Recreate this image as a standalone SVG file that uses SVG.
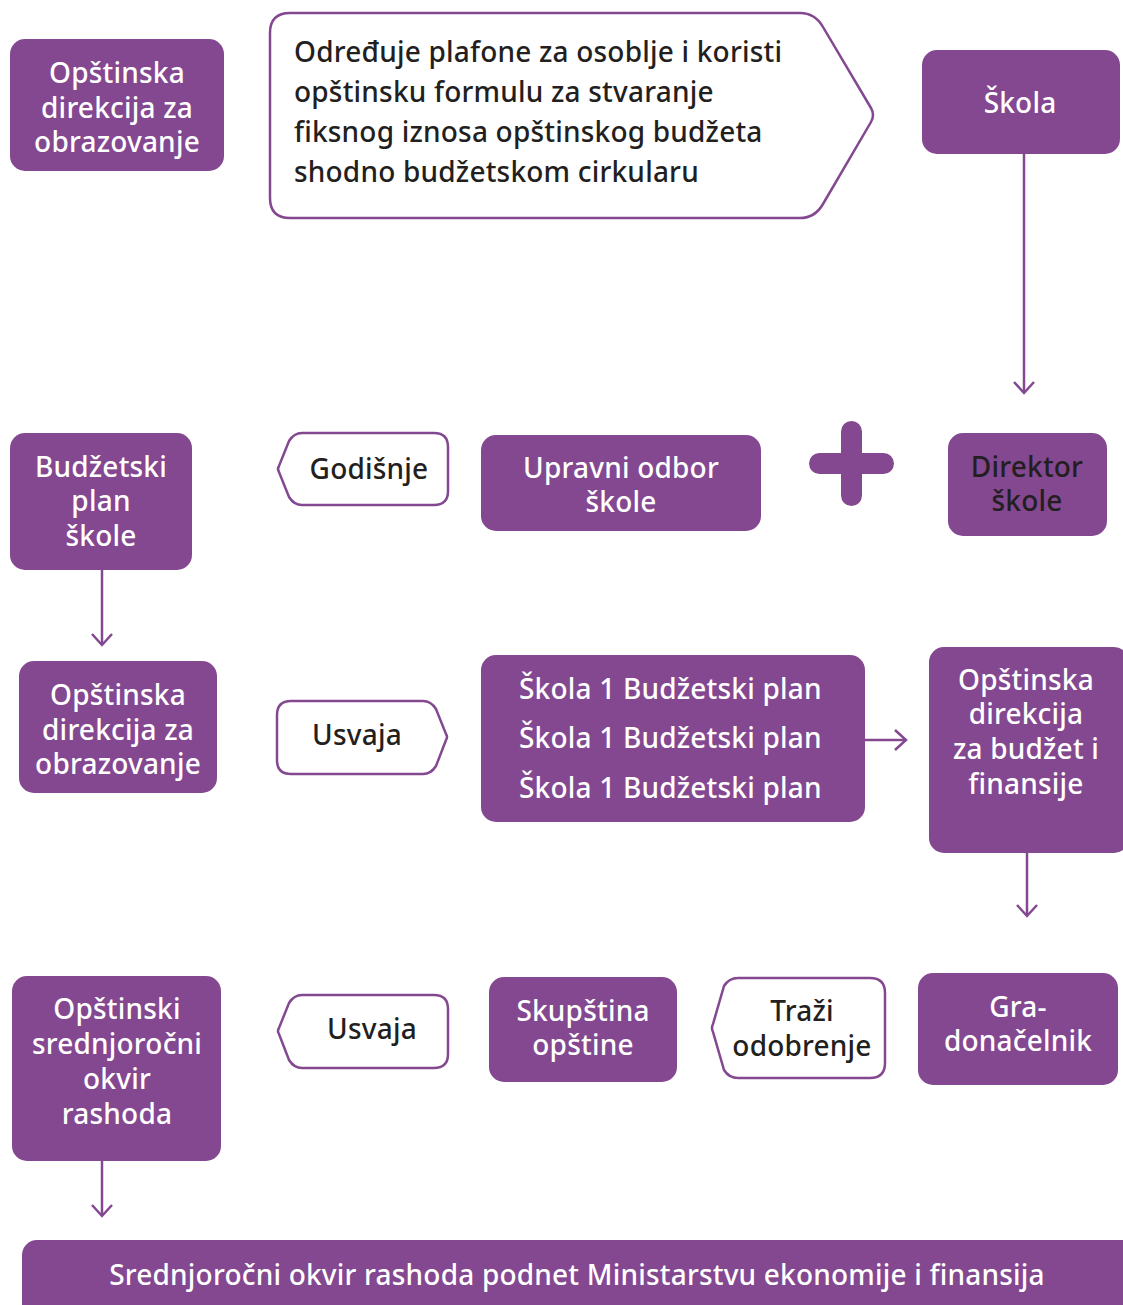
<svg xmlns="http://www.w3.org/2000/svg" width="1123" height="1305" viewBox="0 0 1123 1305">
<defs>
<style>
.box{fill:#844891}
.tag{fill:#fff;stroke:#844891;stroke-width:2.5}
.t{font-family:"Noto Sans","Open Sans","Liberation Sans",sans-serif;font-size:28px;font-weight:500;letter-spacing:0.2px;text-anchor:middle}
.w{fill:#fff}
.k{fill:#231f20}
.l{text-anchor:start}
.con{fill:none;stroke:#844891;stroke-width:2.5}
</style>
<marker id="ah" markerUnits="userSpaceOnUse" markerWidth="24" markerHeight="24" viewBox="-12 -12 24 24" refX="0" refY="0" orient="auto" overflow="visible">
<path d="M-11,-10 L0,0 L-11,10" fill="none" stroke="#844891" stroke-width="2.5"/>
</marker>
</defs>
<rect width="1123" height="1305" fill="#fff"/>

<g id="connectors">
<line class="con" x1="1024" y1="154" x2="1024" y2="393" marker-end="url(#ah)"/>
<line class="con" x1="102" y1="570" x2="102" y2="645" marker-end="url(#ah)"/>
<line class="con" x1="865" y1="740" x2="906" y2="740" marker-end="url(#ah)"/>
<line class="con" x1="1027" y1="853" x2="1027" y2="916" marker-end="url(#ah)"/>
<line class="con" x1="102" y1="1161" x2="102" y2="1216" marker-end="url(#ah)"/>
</g>

<g id="n-opstinska-obrazovanje-1">
<rect class="box" x="10" y="39" width="214" height="132" rx="15"/>
<text class="t w" x="117"><tspan x="117" y="83">Opštinska</tspan><tspan x="117" y="118">direkcija za</tspan><tspan x="117" y="152">obrazovanje</tspan></text>
</g>

<g id="n-odredjuje">
<path class="tag" d="M290,13 H800 Q815,13 823,27 L871,108 Q875,115 871,122 L823,204 Q815,218 800,218 H290 Q270,218 270,198 V33 Q270,13 290,13 Z"/>
<text class="t k l" x="294"><tspan x="294" y="62">Određuje plafone za osoblje i koristi</tspan><tspan x="294" y="102">opštinsku formulu za stvaranje</tspan><tspan x="294" y="142">fiksnog iznosa opštinskog budžeta</tspan><tspan x="294" y="182">shodno budžetskom cirkularu</tspan></text>
</g>

<g id="n-skola">
<rect class="box" x="922" y="50" width="198" height="104" rx="15"/>
<text class="t w" x="1020" y="113">Škola</text>
</g>

<g id="n-budzetski-plan">
<rect class="box" x="10" y="433" width="182" height="137" rx="15"/>
<text class="t w" x="101"><tspan x="101" y="477">Budžetski</tspan><tspan x="101" y="511">plan</tspan><tspan x="101" y="546">škole</tspan></text>
</g>

<g id="n-godisnje">
<path class="tag" d="M302,433 H434 Q448,433 448,447 V491 Q448,505 434,505 H302 Q294,505 289,497 L279,472 Q277,469 279,466 L289,441 Q294,433 302,433 Z"/>
<text class="t k" x="369" y="479">Godišnje</text>
</g>

<g id="n-upravni-odbor">
<rect class="box" x="481" y="435" width="280" height="96" rx="15"/>
<text class="t w" x="621"><tspan x="621" y="478">Upravni odbor</tspan><tspan x="621" y="512">škole</tspan></text>
</g>

<g id="n-plus">
<rect class="box" x="809" y="453" width="85" height="21" rx="10.5"/>
<rect class="box" x="841" y="421" width="21" height="85" rx="10.5"/>
</g>

<g id="n-direktor">
<rect class="box" x="948" y="433" width="159" height="103" rx="15"/>
<text class="t k" x="1027"><tspan x="1027" y="477">Direktor</tspan><tspan x="1027" y="511">škole</tspan></text>
</g>

<g id="n-opstinska-obrazovanje-2">
<rect class="box" x="19" y="661" width="198" height="132" rx="15"/>
<text class="t w" x="118"><tspan x="118" y="705">Opštinska</tspan><tspan x="118" y="740">direkcija za</tspan><tspan x="118" y="774">obrazovanje</tspan></text>
</g>

<g id="n-usvaja-1">
<path class="tag" d="M291,701 H423 Q431,701 436,709 L446,734 Q448,737 446,740 L436,766 Q431,774 423,774 H291 Q277,774 277,760 V715 Q277,701 291,701 Z"/>
<text class="t k" x="357" y="745">Usvaja</text>
</g>

<g id="n-skola-planovi">
<rect class="box" x="481" y="655" width="384" height="167" rx="15"/>
<text class="t w l" x="519"><tspan x="519" y="699">Škola 1 Budžetski plan</tspan><tspan x="519" y="748">Škola 1 Budžetski plan</tspan><tspan x="519" y="798">Škola 1 Budžetski plan</tspan></text>
</g>

<g id="n-budzet-finansije">
<rect class="box" x="929" y="647" width="200" height="206" rx="15"/>
<text class="t w" x="1026"><tspan x="1026" y="690">Opštinska</tspan><tspan x="1026" y="724">direkcija</tspan><tspan x="1026" y="759">za budžet i</tspan><tspan x="1026" y="794">finansije</tspan></text>
</g>

<g id="n-srednjorocni-okvir">
<rect class="box" x="12" y="976" width="209" height="185" rx="15"/>
<text class="t w" x="117"><tspan x="117" y="1019">Opštinski</tspan><tspan x="117" y="1054">srednjoročni</tspan><tspan x="117" y="1089">okvir</tspan><tspan x="117" y="1124">rashoda</tspan></text>
</g>

<g id="n-usvaja-2">
<path class="tag" d="M302,995 H434 Q448,995 448,1009 V1054 Q448,1068 434,1068 H302 Q294,1068 289,1060 L279,1034 Q277,1031 279,1028 L289,1003 Q294,995 302,995 Z"/>
<text class="t k" x="372" y="1039">Usvaja</text>
</g>

<g id="n-skupstina">
<rect class="box" x="489" y="977" width="188" height="105" rx="15"/>
<text class="t w" x="583"><tspan x="583" y="1021">Skupština</tspan><tspan x="583" y="1055">opštine</tspan></text>
</g>

<g id="n-trazi">
<path class="tag" d="M738,978 H870 Q885,978 885,993 V1063 Q885,1078 870,1078 H738 Q729,1078 724,1070 L713,1032 Q711,1028 713,1024 L724,986 Q729,978 738,978 Z"/>
<text class="t k" x="802"><tspan x="802" y="1021">Traži</tspan><tspan x="802" y="1056">odobrenje</tspan></text>
</g>

<g id="n-gradonacelnik">
<rect class="box" x="918" y="973" width="200" height="112" rx="15"/>
<text class="t w" x="1018"><tspan x="1018" y="1017">Gra-</tspan><tspan x="1018" y="1051">donačelnik</tspan></text>
</g>

<g id="n-srednjorocni-podnet">
<rect class="box" x="22" y="1240" width="1130" height="90" rx="15"/>
<text class="t w" x="577" y="1285">Srednjoročni okvir rashoda podnet Ministarstvu ekonomije i finansija</text>
</g>
</svg>
